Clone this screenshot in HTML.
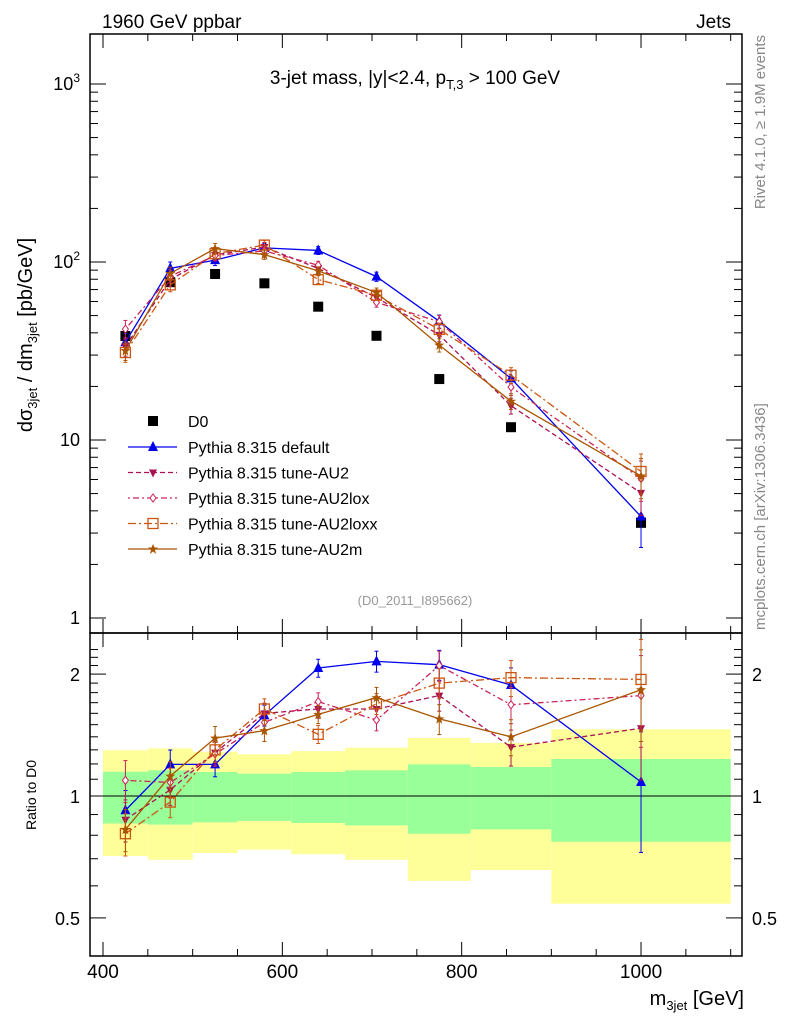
<!DOCTYPE html>
<html><head><meta charset="utf-8"><style>
body{margin:0;background:#fff;}
svg{display:block;font-family:"Liberation Sans",sans-serif;}
</style></head><body>
<svg id="c" width="786" height="1024" viewBox="0 0 786 1024">
<text x="102" y="28" font-size="19">1960 GeV ppbar</text>
<text x="731" y="28" font-size="19" text-anchor="end">Jets</text>
<text x="415" y="84" font-size="19" text-anchor="middle">3-jet mass, |y|&lt;2.4, p<tspan font-size="13" dy="5">T,3</tspan><tspan dy="-5"> &gt; 100 GeV</tspan></text>
<text x="415" y="605" font-size="13" fill="#999" text-anchor="middle">(D0_2011_I895662)</text>
<text transform="translate(765,35) rotate(-90)" font-size="15" fill="#888" text-anchor="end">Rivet 4.1.0, ≥ 1.9M events</text>
<text transform="translate(765,630) rotate(-90)" font-size="15" fill="#888">mcplots.cern.ch [arXiv:1306.3436]</text>
<text transform="translate(32,335) rotate(-90)" font-size="20" text-anchor="middle">dσ<tspan font-size="13" dy="5">3jet</tspan><tspan dy="-5"> / dm</tspan><tspan font-size="13" dy="5">3jet</tspan><tspan dy="-5"> [pb/GeV]</tspan></text>
<text transform="translate(36,795) rotate(-90)" font-size="14" text-anchor="middle">Ratio to D0</text>
<text x="744" y="1005" font-size="20" text-anchor="end">m<tspan font-size="13" dy="5">3jet</tspan><tspan dy="-5"> [GeV]</tspan></text>
<g id="g"></g>
</svg>
<script>
const categories=[425,475,525,580,640,705,775,855,1000];
const binEdges=[400,450,500,550,610,670,740,810,900,1100];
const d0Values=[38.4,77,85.6,75.9,56.1,38.5,22.0,11.8,3.43];
const yellowHi=[1.297,1.311,1.286,1.268,1.291,1.316,1.391,1.352,1.461];
const yellowLo=[0.711,0.696,0.723,0.737,0.718,0.696,0.617,0.657,0.542];
const greenHi=[1.148,1.157,1.146,1.135,1.146,1.157,1.197,1.179,1.234];
const greenLo=[0.855,0.850,0.861,0.868,0.858,0.846,0.807,0.827,0.771];
const ratioDefault=[0.922,1.197,1.197,1.582,2.07,2.15,2.11,1.88,1.083];
const ratioAU2=[0.874,1.036,1.28,1.60,1.64,1.64,1.77,1.32,1.47];
const ratioAU2lox=[1.093,1.08,1.27,1.52,1.71,1.54,2.10,1.68,1.77];
const ratioAU2loxx=[0.807,0.966,1.30,1.64,1.42,1.69,1.90,1.96,1.94];
const ratioAU2m=[0.827,1.12,1.39,1.45,1.59,1.75,1.55,1.40,1.83];
const relErr=[0.14,0.1,0.08,0.07,0.06,0.07,0.1,0.12,0.3];
const xTicks=[400,600,800,1000];
const mainTicks=[1,10,100,1000];
const ratioTicks=[0.5,1,2];

const NS="http://www.w3.org/2000/svg";
const g=document.getElementById('g');
const L=90,R=742,T=34,M=633,B=956;
const X=v=>103+(v-400)*0.8967;
const YM=v=>618-Math.log10(v)*178;
const YR=v=>796-Math.log10(v)*405;
function el(t,a,p){const e=document.createElementNS(NS,t);for(const k in a)e.setAttribute(k,a[k]);(p||g).appendChild(e);return e;}

for(let i=0;i<categories.length;i++){
  const b=el('rect',{x:X(binEdges[i]),y:YR(yellowHi[i]),width:X(binEdges[i+1])-X(binEdges[i]),height:YR(yellowLo[i])-YR(yellowHi[i]),fill:'#ffff99'});
  
  
  const gb=el('rect',{x:X(binEdges[i]),y:YR(greenHi[i]),width:X(binEdges[i+1])-X(binEdges[i]),height:YR(greenLo[i])-YR(greenHi[i]),fill:'#99ff99'});
  
  
}
const one=el('line',{x1:L,x2:R,y1:YR(1),y2:YR(1),stroke:'#000','stroke-width':1});



const f1=el('rect',{x:L,y:T,width:R-L,height:M-T,fill:'none',stroke:'#000','stroke-width':1.5});


const f2=el('rect',{x:L,y:M,width:R-L,height:B-M,fill:'none',stroke:'#000','stroke-width':1.5});



for(let v=400;v<=1100;v+=50){
  const major=v%200===0, len=major?14:7;
  for(const [top,bot] of [[T,M],[M,B]]){
    el('line',{x1:X(v),x2:X(v),y1:bot,y2:bot-len,stroke:'#000'});
    el('line',{x1:X(v),x2:X(v),y1:top,y2:top+len,stroke:'#000'});
  }
}
xTicks.forEach(v=>{const t=el('text',{x:X(v),y:978,'font-size':19,'text-anchor':'middle'});t.textContent=v;

});
for(let d=0;d<4;d++){for(let k=1;k<10;k++){const v=Math.pow(10,d)*k;const y=YM(v);if(y<T||y>M)continue;const len=k===1?16:8;
 el('line',{x1:L,x2:L+len,y1:y,y2:y,stroke:'#000'});el('line',{x1:R,x2:R-len,y1:y,y2:y,stroke:'#000'});}}
mainTicks.forEach((v,i)=>{const t=el('text',{x:80,y:YM(v)+6,'font-size':18,'text-anchor':'end'});
 if(v>=100){t.textContent='10';const s=el('tspan',{'font-size':12,dy:-8},t);s.textContent=v===100?'2':'3';}else t.textContent=v;
 
 });
for(let v=0.5;v<=2.31;v+=0.1){const y=YR(v);const maj=[0.5,1,2].some(q=>Math.abs(q-v)<1e-6);const len=maj?16:8;
 el('line',{x1:L,x2:L+len,y1:y,y2:y,stroke:'#000'});el('line',{x1:R,x2:R-len,y1:y,y2:y,stroke:'#000'});}
ratioTicks.forEach(v=>{for(const [x,a] of [[80,'end'],[752,'start']]){const t=el('text',{x:x,y:YR(v)+7,'font-size':18,'text-anchor':a});t.textContent=v;
 
 }});

function marker(type,x,y,c,p){
  if(type==='tri')el('polygon',{points:`${x},${y-6} ${x-5},${y+4} ${x+5},${y+4}`,fill:c},p);
  else if(type==='tridown')el('polygon',{points:`${x},${y+5} ${x-4},${y-3} ${x+4},${y-3}`,fill:c},p);
  else if(type==='diamond')el('polygon',{points:`${x},${y-4} ${x+3},${y} ${x},${y+4} ${x-3},${y}`,fill:'#fff',stroke:c},p);
  else if(type==='square')el('rect',{x:x-5,y:y-5,width:10,height:10,fill:'none',stroke:c,'stroke-width':1.3},p);
  else if(type==='star')el('polygon',{points:`${x},${y-5} ${x+1.5},${y-1.5} ${x+5},${y-1.5} ${x+2},${y+1} ${x+3},${y+5} ${x},${y+2.5} ${x-3},${y+5} ${x-2},${y+1} ${x-5},${y-1.5} ${x-1.5},${y-1.5}`,fill:c},p);
  else if(type==='box')el('rect',{x:x-5,y:y-5,width:10,height:10,fill:c},p);
}
const series=[
 {name:'Pythia 8.315 default',r:ratioDefault,c:'#0000ee',dash:'',m:'tri'},
 {name:'Pythia 8.315 tune-AU2',r:ratioAU2,c:'#aa1155',dash:'5,3',m:'tridown'},
 {name:'Pythia 8.315 tune-AU2lox',r:ratioAU2lox,c:'#cc2255',dash:'2,3,6,3',m:'diamond'},
 {name:'Pythia 8.315 tune-AU2loxx',r:ratioAU2loxx,c:'#cc5511',dash:'8,3,2,3',m:'square'},
 {name:'Pythia 8.315 tune-AU2m',r:ratioAU2m,c:'#aa5500',dash:'',m:'star'}];

const dg=el('g',{});


categories.forEach((c,i)=>marker('box',X(c),YM(d0Values[i]),'#000',dg));

series.forEach((s,si)=>{
  const sg=el('g',{});
  
  
  const mv=categories.map((c,i)=>d0Values[i]*s.r[i]);
  const attrs={fill:'none',stroke:s.c,'stroke-width':1.3};if(s.dash)attrs['stroke-dasharray']=s.dash;
  el('polyline',Object.assign({points:categories.map((c,i)=>X(c)+','+YM(mv[i])).join(' ')},attrs),sg);
  el('polyline',Object.assign({points:categories.map((c,i)=>X(c)+','+YR(s.r[i])).join(' ')},attrs),sg);
  categories.forEach((c,i)=>{
    const e=relErr[i]*(si===0&&i===8?1.1:0.85);
    const x=X(c);
    for(const [fy,v] of [[YM,mv[i]],[YR,s.r[i]]]){
      el('line',{x1:x,x2:x,y1:fy(v*(1+e)),y2:fy(Math.max(v*(1-e),0.01)),stroke:s.c,'stroke-width':1},sg);
      el('line',{x1:x-2,x2:x+2,y1:fy(v*(1+e)),y2:fy(v*(1+e)),stroke:s.c},sg);
      el('line',{x1:x-2,x2:x+2,y1:fy(v*(1-e)),y2:fy(v*(1-e)),stroke:s.c},sg);
      marker(s.m,x,fy(v),s.c,sg);
    }
  });
});
marker('box',X(categories[8]),YM(d0Values[8]),'#000',dg);

const lg=el('g',{});


marker('box',153,421,'#000',lg);
const t0=el('text',{x:188,y:427,'font-size':16},lg);t0.textContent='D0';
series.forEach((s,i)=>{const y=447+i*25.5;
 const a={x1:128,x2:177,y1:y,y2:y,stroke:s.c,'stroke-width':1.3};if(s.dash)a['stroke-dasharray']=s.dash;
 el('line',a,lg);marker(s.m,153,y,s.c,lg);
 const t=el('text',{x:188,y:y+6,'font-size':16},lg);t.textContent=s.name;
 
 });
</script>
</body></html>
